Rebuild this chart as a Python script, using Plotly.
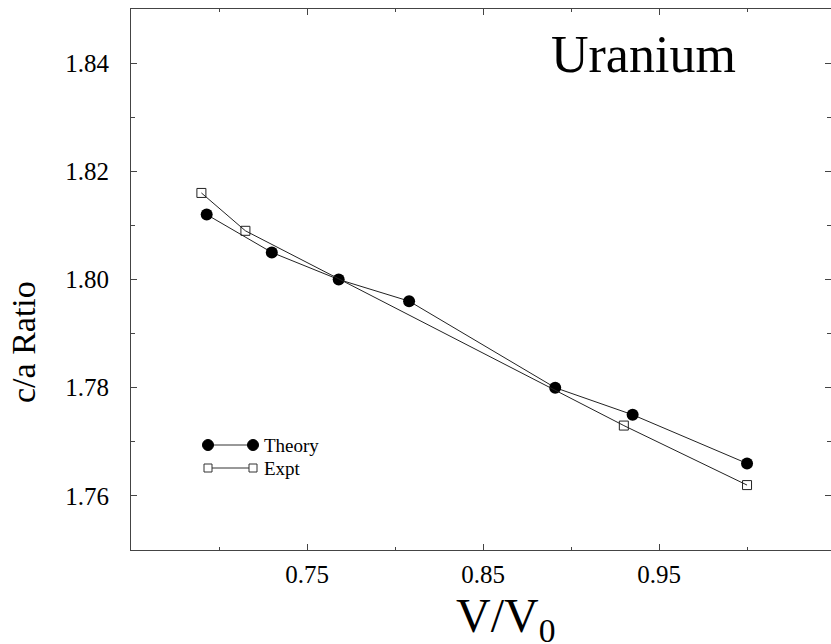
import plotly.graph_objects as go

# Data
theory_v = [0.693, 0.730, 0.768, 0.808, 0.891, 0.935, 1.000]
theory_ca = [1.812, 1.805, 1.800, 1.796, 1.780, 1.775, 1.766]
expt_v = [0.690, 0.715, 0.930, 1.000]
expt_ca = [1.816, 1.809, 1.773, 1.762]
x_tickvals = [0.75, 0.85, 0.95]
x_ticktext = ["0.75", "0.85", "0.95"]
y_tickvals = [1.76, 1.78, 1.80, 1.82, 1.84]
y_ticktext = ["1.76", "1.78", "1.80", "1.82", "1.84"]

W, H = 831, 644
L, R, T, B = 131, 0, 9, 94
PW, PH = W - L - R, H - T - B
FONT = "'Liberation Serif', Tinos, 'Times New Roman', Times, 'DejaVu Serif', serif"


def px(x):
    return (x - L) / PW


def py(y):
    return (H - B - y) / PH


fig = go.Figure()
fig.add_trace(go.Scatter(
    x=theory_v, y=theory_ca, mode="lines+markers", name="Theory",
    line=dict(color="#222", width=1),
    marker=dict(symbol="circle", size=12, color="black"),
    showlegend=False))
fig.add_trace(go.Scatter(
    x=expt_v, y=expt_ca, mode="lines+markers", name="Expt",
    line=dict(color="#222", width=1),
    marker=dict(symbol="square-open", size=9, color="#222", line=dict(width=1)),
    showlegend=False))

axis_common = dict(
    showline=True, linecolor="#444", linewidth=1, mirror="allticks",
    ticks="inside", ticklen=6, tickcolor="#444", showgrid=False, zeroline=False,
    tickfont=dict(family=FONT, size=25, color="black"),
)
fig.update_xaxes(range=[0.65, 1.0477], tickvals=x_tickvals, ticktext=x_ticktext,
                 minor=dict(ticks="inside", ticklen=3, tickvals=[0.70, 0.80, 0.90, 1.00], tickcolor="#444"),
                 ticklabelstandoff=2, **axis_common)
fig.update_yaxes(range=[1.75, 1.85], tickvals=y_tickvals, ticktext=y_ticktext,
                 minor=dict(ticks="inside", ticklen=4, tickvals=[1.77, 1.79, 1.81, 1.83], tickcolor="#444"),
                 ticklabelstandoff=16, **axis_common)

shapes = []
# manual legend
for cy, kind in [(445, "circle"), (468, "square")]:
    shapes.append(dict(type="line", xref="paper", yref="paper",
                       x0=px(208), x1=px(253), y0=py(cy), y1=py(cy),
                       line=dict(color="#333", width=1)))
    for cx in (208, 253):
        if kind == "circle":
            r = 5.5
            shapes.append(dict(type="circle", xref="paper", yref="paper",
                               x0=px(cx - r), x1=px(cx + r), y0=py(cy + r), y1=py(cy - r),
                               fillcolor="black", line=dict(color="black", width=1)))
        else:
            r = 4
            shapes.append(dict(type="rect", xref="paper", yref="paper",
                               x0=px(cx - r), x1=px(cx + r), y0=py(cy + r), y1=py(cy - r),
                               fillcolor="white", line=dict(color="#333", width=1)))

annotations = [
    dict(text="Theory", x=px(262), y=py(445), xref="paper", yref="paper",
         xanchor="left", yanchor="middle", showarrow=False,
         font=dict(family=FONT, size=19, color="black")),
    dict(text="Expt", x=px(262), y=py(468), xref="paper", yref="paper",
         xanchor="left", yanchor="middle", showarrow=False,
         font=dict(family=FONT, size=19, color="black")),
    dict(text="Uranium", x=px(643), y=py(55), xref="paper", yref="paper",
         xanchor="center", yanchor="middle", showarrow=False,
         font=dict(family=FONT, size=52, color="black")),
    dict(text="c/a Ratio", x=px(23), y=py(342), xref="paper", yref="paper",
         xanchor="center", yanchor="middle", showarrow=False, textangle=-90,
         font=dict(family=FONT, size=34, color="black")),
    dict(text="V/V<sub>0</sub>", x=px(505), y=py(651), xref="paper", yref="paper",
         xanchor="center", yanchor="bottom", showarrow=False,
         font=dict(family=FONT, size=48, color="black")),
]

fig.update_layout(
    width=W, height=H, margin=dict(l=L, r=R, t=T, b=B),
    paper_bgcolor="white", plot_bgcolor="white",
    font=dict(family=FONT),
    shapes=shapes, annotations=annotations,
)

fig.write_html("out.html", config={"displayModeBar": False},
               post_script="document.body.style.margin='0px';document.body.style.padding='0px';")
